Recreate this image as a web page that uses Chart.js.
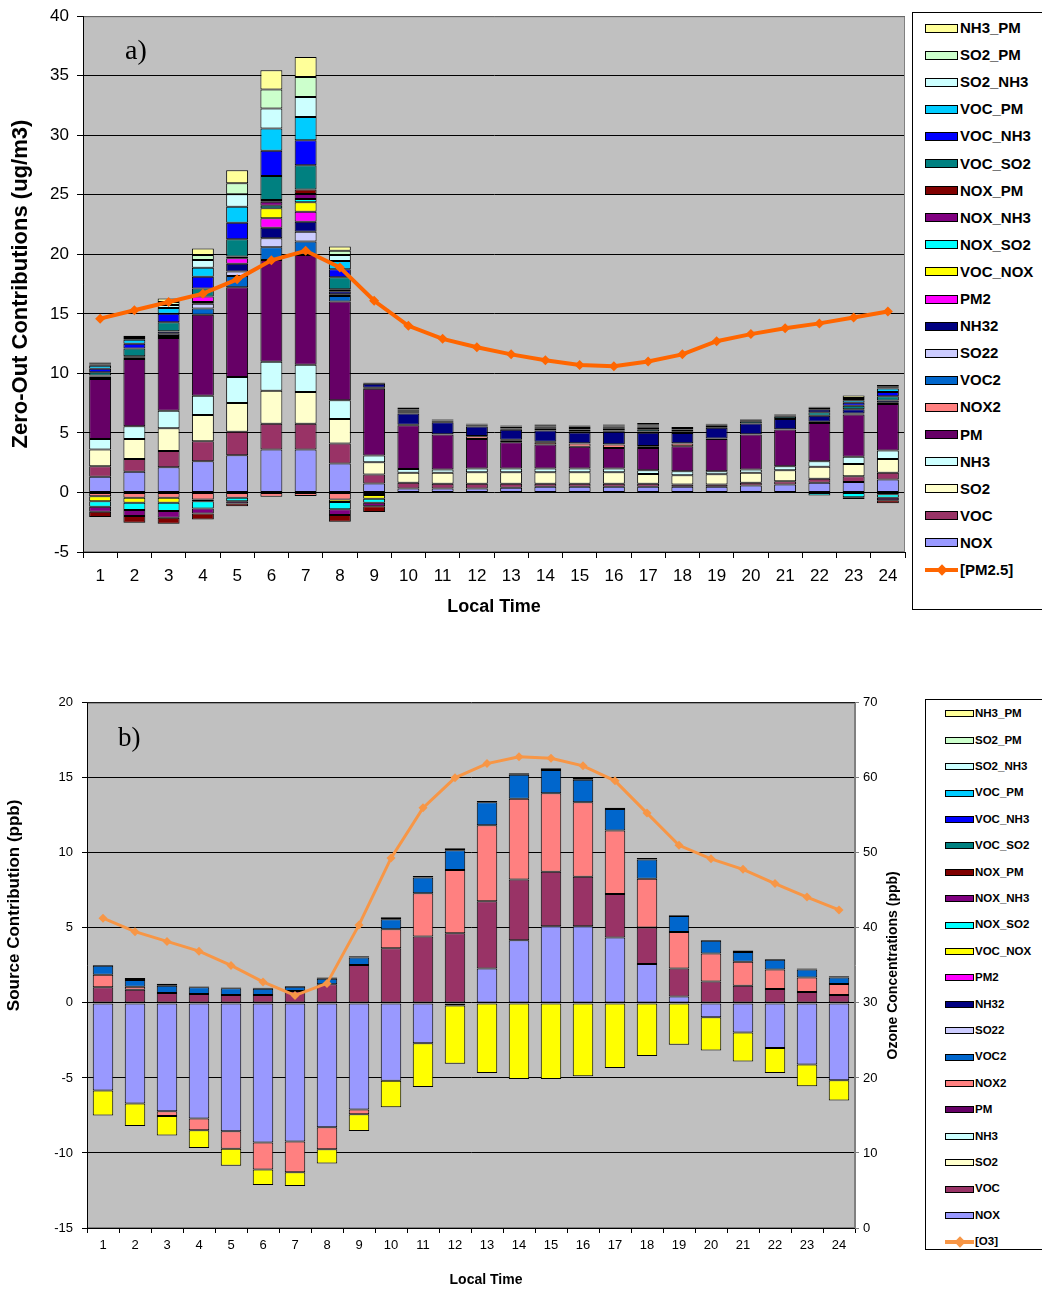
<!DOCTYPE html>
<html>
<head>
<meta charset="utf-8">
<script src="https://cdn.jsdelivr.net/npm/chart.js@4.4.1/dist/chart.umd.min.js"></script>
<style>
  body { margin: 0; background: #fff; width: 1042px; height: 1289px; position: relative; overflow: hidden; font-family: "Liberation Sans", Arial, sans-serif; }
  canvas { position: absolute; }
  .legend { position: absolute; border: 1px solid #000; background: #fff; box-sizing: border-box; }
  .row { position: absolute; left: 0; white-space: nowrap; font-weight: bold; color: #000; }
  .sw { position: absolute; border: 1px solid #000; box-sizing: border-box; }
  .ln { position: absolute; }
  .dia { position: absolute; transform: rotate(45deg); }
  .tag { position: absolute; font-family: "Liberation Serif", "Times New Roman", serif; color: #000; }
</style>
</head>
<body>
<canvas id="chartA" width="910" height="629" style="left:0;top:-2px"></canvas>
<canvas id="chartB" width="905" height="604" style="left:0;top:686px"></canvas>
<div class="tag" style="left:125px;top:34px;font-size:28px">a)</div>
<div class="tag" style="left:118px;top:722px;font-size:27px">b)</div>
<div id="legendA" class="legend" style="left:912px;top:12px;width:140px;height:598px"></div>
<div id="legendB" class="legend" style="left:925px;top:699px;width:125px;height:551px"></div>
<script>
// ---- shared categories ----
const hours = ['1','2','3','4','5','6','7','8','9','10','11','12','13','14','15','16','17','18','19','20','21','22','23','24'];
const seriesNames = ['NOX','VOC','SO2','NH3','PM','NOX2','VOC2','SO22','NH32','PM2',
  'VOC_NOX','NOX_SO2','NOX_NH3','NOX_PM','VOC_SO2','VOC_NH3','VOC_PM','SO2_NH3','SO2_PM','NH3_PM'];
const seriesColors = ['#9999FF','#993366','#FFFFCC','#CCFFFF','#660066','#FF8080','#0066CC','#CCCCFF','#000080','#FF00FF',
  '#FFFF00','#00FFFF','#800080','#800000','#008080','#0000FF','#00CCFF','#CCFFFF','#CCFFCC','#FFFF99'];

// ---- panel a: PM2.5 zero-out contributions (ug/m3) ----
const noxA    = [1.31,1.73,2.12,2.62,3.13,3.6,3.6,2.43,0.75,0.34,0.34,0.34,0.39,0.47,0.47,0.47,0.47,0.47,0.47,0.59,0.67,0.81,0.87,1.09];
const vocA    = [0.9,1.09,1.37,1.68,1.96,2.18,2.18,1.68,0.76,0.47,0.39,0.39,0.34,0.26,0.26,0.26,0.26,0.2,0.2,0.22,0.28,0.34,0.5,0.56];
const so2A    = [1.39,1.68,1.9,2.21,2.43,2.77,2.66,2.07,1.03,0.84,0.92,0.97,0.97,0.97,0.97,0.97,0.83,0.78,0.87,0.84,0.92,1.0,1.03,1.17];
const nh3A    = [0.9,1.06,1.48,1.62,2.18,2.43,2.29,1.56,0.56,0.33,0.28,0.31,0.31,0.31,0.31,0.31,0.31,0.34,0.25,0.28,0.34,0.48,0.59,0.7];
const pmA     = [5.03,5.64,6.1,6.79,7.54,8.55,9.22,8.3,5.62,3.66,2.93,2.49,2.21,2.01,1.82,1.73,1.87,2.09,2.71,2.93,3.07,3.21,3.55,3.91];
const nox2A   = [-0.31,-0.45,-0.45,-0.59,-0.45,-0.36,-0.3,-0.59,-0.22,0,0,0.22,0.17,0.2,0.28,0.28,0.14,0.23,0,0,0,0,0,0];
const voc2A   = [0.17,0.1,0.18,0.53,0.95,1.06,1.12,0.46,0.05,0.05,0.03,0.03,0.03,0.03,0.03,0.03,0.03,0.03,0.03,0.03,0.03,0.1,0.1,0.1];
const so22A   = [0.05,0.05,0.18,0.4,0.36,0.76,0.83,0.15,0.02,0,0,0,0,0,0,0,0,0,0,0,0,0,0,0];
const nh32A   = [0.05,0.08,0.19,0.15,0.65,0.89,0.84,0.25,0.35,0.95,1.0,0.8,0.85,0.95,0.9,1.05,1.1,0.85,0.9,0.9,0.85,0.5,0.35,0.2];
const pm2A    = [0.02,0.02,0.03,0.45,0.47,0.79,0.84,0.17,0,0,0,0,0,0,0,0,0,0,0,0,0,0,0,0];
const vocNoxA = [-0.42,-0.42,-0.42,-0.14,0.14,0.83,0.79,-0.22,-0.31,0,0,0,0,0,0,0,0,0,0,0,0,0,0,-0.15];
const noxSo2A = [-0.47,-0.61,-0.69,-0.61,-0.28,0.22,0.27,-0.61,-0.34,0,0,0,0,0,0,0,0,0,0,0,0,-0.25,-0.4,-0.3];
const noxNh3A = [-0.42,-0.5,-0.56,-0.42,-0.19,0.34,0.42,-0.48,-0.28,0,0,0,0,0,0.1,0.1,0,0,0,0,0,0,0,-0.2];
const noxPmA  = [-0.45,-0.56,-0.51,-0.5,-0.23,0.14,0.39,-0.56,-0.5,0,0,0,0,0,0,0,0.1,0,0,0,0,0,-0.15,-0.25];
const vocSo2A = [0.28,0.64,0.75,0.69,1.45,2.01,2.04,1.01,0.05,0.1,0.1,0.1,0.1,0.15,0.15,0.15,0.2,0.15,0.15,0.2,0.2,0.3,0.3,0.35];
const vocNh3A = [0.3,0.4,0.7,0.98,1.4,2.12,2.1,0.67,0.02,0.03,0.03,0.03,0.05,0.12,0.12,0.12,0.12,0.1,0.03,0.03,0.1,0.2,0.25,0.35];
const vocPmA  = [0.25,0.33,0.5,0.76,1.34,1.88,1.95,0.7,0.03,0.1,0.03,0.03,0.1,0.08,0.08,0.08,0.1,0.05,0.1,0.1,0.07,0.15,0.2,0.3];
const so2Nh3A = [0.1,0.15,0.25,0.64,1.04,1.68,1.68,0.5,0,0.05,0.03,0.03,0.04,0.05,0.05,0.07,0.1,0.03,0.04,0.03,0.03,0.05,0.1,0.1];
const so2PmA  = [0.1,0.08,0.25,0.42,0.92,1.59,1.68,0.36,0,0.05,0.03,0.03,0.03,0.07,0.05,0.05,0.06,0.1,0,0,0,0.03,0.1,0.1];
const nh3PmA  = [0.07,0.11,0.3,0.56,1.11,1.62,1.67,0.34,0,0.17,0.03,0.03,0.03,0.03,0.03,0.03,0.15,0.08,0.03,0.02,0.03,0.03,0.2,0.1];
const pm25    = [14.6,15.3,16.0,16.7,17.9,19.5,20.3,18.9,16.1,14.0,12.9,12.2,11.6,11.1,10.7,10.6,11.0,11.6,12.7,13.3,13.8,14.2,14.7,15.2];

// ---- panel b: ozone source contributions (ppb) ----
const noxB    = [-5.83,-6.7,-7.22,-7.7,-8.55,-9.3,-9.23,-8.28,-7.1,-5.18,-2.68,-0.18,2.3,4.18,5.11,5.11,4.36,2.59,0.42,-0.95,-1.97,-3.01,-4.1,-5.16];
const vocB    = [1.04,0.88,0.66,0.6,0.53,0.53,0.8,1.24,2.52,3.65,4.42,4.65,4.47,4.05,3.63,3.3,2.9,2.43,1.88,1.43,1.15,0.93,0.73,0.53];
const nox2B   = [0.84,0.2,-0.31,-0.78,-1.17,-1.8,-2.06,-1.48,-0.32,1.26,2.88,4.2,5.07,5.38,5.24,4.96,4.23,3.25,2.43,1.86,1.59,1.3,0.97,0.73];
const voc2B   = [0.6,0.45,0.49,0.44,0.44,0.42,0.28,0.37,0.51,0.67,1.05,1.33,1.53,1.59,1.55,1.5,1.43,1.29,1.07,0.85,0.66,0.64,0.53,0.44];
const nh32B   = [0.05,0.13,0.12,0.06,0.06,0.06,0.05,0.09,0.08,0.13,0.1,0.12,0.08,0.1,0.11,0.13,0.08,0.09,0.05,0.06,0.1,0.06,0.07,0.07];
const vocNoxB = [-1.67,-1.5,-1.3,-1.19,-1.13,-1.03,-0.91,-0.94,-1.11,-1.77,-2.92,-3.87,-4.67,-5.07,-5.07,-4.89,-4.34,-3.54,-2.79,-2.22,-1.93,-1.66,-1.46,-1.34];
const ozone   = [41.3,39.5,38.2,36.9,35.0,32.8,31.0,32.6,40.4,49.3,56.0,60.0,61.9,62.8,62.6,61.6,59.6,55.3,51.0,49.2,47.8,45.9,44.1,42.4];

const seriesA = [noxA,vocA,so2A,nh3A,pmA,nox2A,voc2A,so22A,nh32A,pm2A,vocNoxA,noxSo2A,noxNh3A,noxPmA,vocSo2A,vocNh3A,vocPmA,so2Nh3A,so2PmA,nh3PmA];
const seriesB = { NOX: noxB, VOC: vocB, NOX2: nox2B, VOC2: voc2B, NH32: nh32B, VOC_NOX: vocNoxB };

const FONT = '"Liberation Sans", Arial, sans-serif';
Chart.defaults.font.family = FONT;
Chart.defaults.color = '#000';

const plotFrame = {
  id: 'plotFrame',
  beforeDraw(chart) {
    const { ctx, chartArea: a } = chart;
    ctx.save();
    ctx.fillStyle = '#C0C0C0';
    ctx.fillRect(a.left, a.top, a.right - a.left, a.bottom - a.top);
    ctx.restore();
  },
  afterDraw(chart) {
    const { ctx, chartArea: a } = chart;
    ctx.save();
    ctx.strokeStyle = '#808080';
    ctx.lineWidth = 1;
    ctx.strokeRect(a.left + 0.5, a.top + 0.5, a.right - a.left - 1, a.bottom - a.top - 1);
    ctx.beginPath();
    ctx.strokeStyle = '#000';
    ctx.moveTo(a.left + 0.5, a.top);
    ctx.lineTo(a.left + 0.5, a.bottom);
    ctx.stroke();
    ctx.restore();
  }
};

function barSets(names, arrays, colors) {
  return arrays.map((arr, i) => ({
    type: 'bar',
    label: names[i],
    data: arr.map(v => (v === 0 ? null : v)),
    backgroundColor: colors[i],
    borderColor: '#000',
    borderWidth: 1,
    borderSkipped: false,
    stack: 'src',
    categoryPercentage: 1,
    barPercentage: 0.64
  }));
}

// ---- chart a ----
new Chart(document.getElementById('chartA'), {
  data: {
    labels: hours,
    datasets: [
      {
        type: 'line', label: '[PM2.5]', data: pm25, order: -1, stack: 'line',
        borderColor: '#FF6600', backgroundColor: '#FF6600', borderWidth: 4,
        pointStyle: 'rectRot', pointRadius: 5, pointBorderWidth: 0, tension: 0
      },
      ...barSets(seriesNames, seriesA, seriesColors)
    ]
  },
  options: {
    responsive: false, animation: false,
    layout: { padding: { top: 13, right: 5, left: 0, bottom: 0 } },
    plugins: { legend: { display: false }, tooltip: { enabled: false } },
    scales: {
      x: {
        stacked: true,
        grid: { drawOnChartArea: false, tickLength: 6, color: '#000' },
        border: { color: '#000' },
        ticks: { font: { size: 17 }, padding: 8, maxRotation: 0 },
        title: { display: true, text: 'Local Time', font: { size: 18, weight: 'bold' }, padding: { top: 4, bottom: 9 } },
        afterFit(s) { s.height = 75; }
      },
      y: {
        stacked: true, min: -5, max: 40,
        grid: { color: '#000', tickLength: 6 },
        border: { color: '#000' },
        ticks: { stepSize: 5, font: { size: 17 }, padding: 8 },
        title: { display: true, text: 'Zero-Out Contributions (ug/m3)', font: { size: 22, weight: 'bold' }, padding: { top: 8, bottom: 0 } },
        afterFit(s) { s.width = 83; }
      }
    }
  },
  plugins: [plotFrame]
});

// ---- chart b ----
const sideTitles = {
  id: 'sideTitles',
  afterDraw(chart) {
    const { ctx, chartArea: a } = chart;
    const put = (text, size, x, y, rot) => {
      ctx.save();
      ctx.fillStyle = '#000';
      ctx.textAlign = 'center';
      ctx.textBaseline = 'middle';
      ctx.font = 'bold ' + size + 'px ' + FONT;
      ctx.translate(x, y);
      if (rot) ctx.rotate(-Math.PI / 2);
      ctx.fillText(text, 0, 0);
      ctx.restore();
    };
    put('Source Contribution (ppb)', 17, 14, (a.top + a.bottom) / 2 - 60, true);
    put('Ozone Concentrations (ppb)', 14, 893, (a.top + a.bottom) / 2, true);
    put('Local Time', 14, 486, 594, false);
  }
};

const namesB = Object.keys(seriesB);
new Chart(document.getElementById('chartB'), {
  data: {
    labels: hours,
    datasets: [
      {
        type: 'line', label: '[O3]', data: ozone, yAxisID: 'y1', order: -1,
        borderColor: '#F79646', backgroundColor: '#F79646', borderWidth: 3,
        pointStyle: 'rectRot', pointRadius: 4.5, pointBorderWidth: 0, tension: 0
      },
      ...barSets(namesB, namesB.map(n => seriesB[n]), namesB.map(n => seriesColors[seriesNames.indexOf(n)]))
    ]
  },
  options: {
    responsive: false, animation: false,
    layout: { padding: { top: 7, right: 0, left: 0, bottom: 0 } },
    plugins: { legend: { display: false }, tooltip: { enabled: false } },
    scales: {
      x: {
        stacked: true,
        grid: { drawOnChartArea: false, tickLength: 5, color: '#000' },
        border: { color: '#000' },
        ticks: { font: { size: 13 }, padding: 5, maxRotation: 0 },
        afterFit(s) { s.height = 62; }
      },
      y: {
        stacked: true, min: -15, max: 20,
        grid: { color: '#000', tickLength: 5 },
        border: { color: '#000' },
        ticks: { stepSize: 5, font: { size: 13 }, padding: 9 },
        afterFit(s) { s.width = 87; }
      },
      y1: {
        position: 'right', min: 0, max: 70,
        grid: { drawOnChartArea: false, tickLength: 4, color: '#808080' },
        border: { color: '#808080' },
        ticks: { stepSize: 10, font: { size: 13 }, padding: 4 },
        afterFit(s) { s.width = 50; }
      }
    }
  },
  plugins: [plotFrame, sideTitles]
});

// ---- legends (top entry = last stacked series) ----
function buildLegend(el, cfg, lineLabel, lineColor) {
  const items = seriesNames.map((n, i) => ({ n, c: seriesColors[i] })).reverse();
  items.push({ n: lineLabel, c: lineColor, line: true });
  items.forEach((it, i) => {
    const cy = cfg.first + i * cfg.step;
    const row = document.createElement('div');
    row.className = 'row';
    row.style.top = (cy - cfg.font * 0.6) + 'px';
    row.style.height = (cfg.font * 1.2) + 'px';
    row.style.width = '100%';
    if (it.line) {
      const ln = document.createElement('div');
      ln.className = 'ln';
      ln.style.cssText = `left:${cfg.swX}px;width:${cfg.swW}px;top:${cfg.font * 0.6 - 2}px;height:4px;background:${it.c}`;
      const d = document.createElement('div');
      d.className = 'dia';
      d.style.cssText = `left:${cfg.swX + cfg.swW / 2 - 4}px;top:${cfg.font * 0.6 - 4}px;width:8px;height:8px;background:${it.c}`;
      row.appendChild(ln); row.appendChild(d);
    } else {
      const sw = document.createElement('div');
      sw.className = 'sw';
      sw.style.cssText = `left:${cfg.swX}px;width:${cfg.swW}px;top:${cfg.font * 0.6 - cfg.swH / 2}px;height:${cfg.swH}px;background:${it.c}`;
      row.appendChild(sw);
    }
    const t = document.createElement('span');
    t.textContent = it.n;
    t.style.cssText = `position:absolute;left:${cfg.txtX}px;top:0;font-size:${cfg.font}px;line-height:${cfg.font * 1.2}px`;
    row.appendChild(t);
    el.appendChild(row);
  });
}
buildLegend(document.getElementById('legendA'),
  { first: 15, step: 27.1, swX: 12, swW: 33, swH: 9, txtX: 47, font: 15 }, '[PM2.5]', '#FF6600');
buildLegend(document.getElementById('legendB'),
  { first: 14, step: 26.4, swX: 19, swW: 29, swH: 7, txtX: 49, font: 11.5 }, '[O3]', '#F79646');
</script>
</body>
</html>
